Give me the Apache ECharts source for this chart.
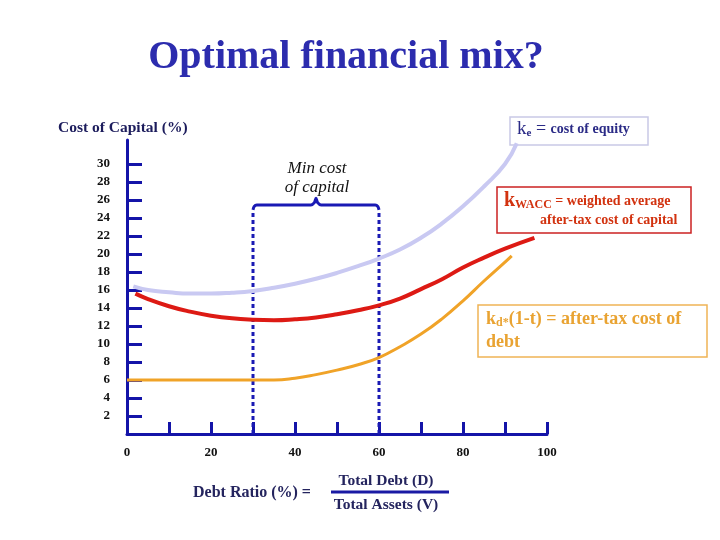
<!DOCTYPE html>
<html>
<head>
<meta charset="utf-8">
<script src="https://cdn.jsdelivr.net/npm/echarts@6/dist/echarts.min.js"></script>
<style>html,body{margin:0;padding:0;background:#fff}#c{width:720px;height:540px}</style>
</head>
<body>
<div id="c"></div>
<script>
// Data (Debt ratio %, cost %)
const keData   = [[1.5,16.4],[5,16.0],[10,15.75],[15,15.6],[20,15.6],[25,15.7],[30,15.9],[35,16.25],[40,16.7],[45,17.25],[50,17.9],[55,18.65],[60,19.5],[65,20.5],[70,21.8],[75,23.4],[80,25.3],[85,27.5],[90,30.0],[92.8,32.3]];
const waccData = [[2,15.6],[5,15.0],[10,14.2],[15,13.6],[20,13.15],[25,12.85],[30,12.7],[35,12.65],[40,12.75],[45,12.95],[50,13.3],[55,13.75],[60,14.3],[65,15.05],[70,16.1],[75,17.2],[80,18.5],[85,19.6],[90,20.6],[97,21.8]];
const kdData   = [[0,6],[5,6],[10,6],[15,6],[20,6],[25,6],[30,6],[35,6],[40,6.2],[45,6.6],[50,7.1],[55,7.7],[60,8.5],[65,9.7],[70,11.1],[75,12.8],[80,14.8],[85,17.0],[90,19.1],[91.6,19.8]];
const minLeft  = [[30,0],[30,24.9]];
const minRight = [[60,0],[60,24.9]];
const braceData = [[30,24.9],[30.3,25.3],[30.9,25.45],[43.8,25.45],[44.6,25.7],[45,26.2],[45.4,25.7],[46.2,25.45],[59.1,25.45],[59.7,25.3],[60,24.9]];
const yTickValues = [2,4,6,8,10,12,14,16,18,20,22,24,26,28,30];
const xTickValues = [0,10,20,30,40,50,60,70,80,90,100];
const xLabelValues = [0,20,40,60,80,100];

const SERIF = '"Liberation Serif","Times New Roman",serif';
const AXIS = '#1414a8';
const chart = echarts.init(document.getElementById('c'));
chart.setOption({
  animation: false,
  backgroundColor: '#fff',
  title: {
    text: 'Optimal financial mix?',
    left: 341, top: 33, textAlign: 'center',
    textStyle: {fontFamily: SERIF, fontSize: 40, fontWeight: 'bold', color: '#2c2cae'}
  },
  grid: {left: 127, right: 173, top: 140, bottom: 106},
  xAxis: {
    type: 'value', min: 0, max: 100, interval: 10,
    axisLine: {show: true, lineStyle: {color: AXIS, width: 3}},
    axisTick: {show: true, inside: true, length: 12, lineStyle: {color: AXIS, width: 3}, customValues: xTickValues},
    axisLabel: {customValues: xLabelValues, margin: 12, fontFamily: SERIF, fontWeight: 'bold', fontSize: 13, color: '#111'},
    splitLine: {show: false}
  },
  yAxis: {
    type: 'value', min: 0, max: 32.67, interval: 2,
    axisLine: {show: true, lineStyle: {color: AXIS, width: 3}},
    axisTick: {show: true, inside: true, length: 15, lineStyle: {color: AXIS, width: 3}, customValues: yTickValues},
    axisLabel: {customValues: yTickValues, margin: 17, fontFamily: SERIF, fontWeight: 'bold', fontSize: 13, color: '#111'},
    splitLine: {show: false}
  },
  series: [
    {type: 'line', data: minLeft, symbol: 'none', lineStyle: {color: '#1a1ab4', width: 3, type: [4,3]}},
    {type: 'line', data: minRight, symbol: 'none', lineStyle: {color: '#1a1ab4', width: 3, type: [4,3]}},
    {type: 'line', data: braceData, symbol: 'none', smooth: 0.3, lineStyle: {color: '#1a1ab4', width: 3}},
    {type: 'line', data: keData, symbol: 'none', smooth: 0.5, lineStyle: {color: '#c9c9f2', width: 4}},
    {type: 'line', data: waccData, symbol: 'none', smooth: 0.5, lineStyle: {color: '#dd1a14', width: 4}},
    {type: 'line', data: kdData, symbol: 'none', smooth: 0.5, lineStyle: {color: '#f0a328', width: 3}}
  ],
  graphic: [
    {type: 'text', x: 58, y: 120, style: {text: 'Cost of Capital (%)', font: 'bold 15.5px ' + SERIF, fill: '#1c1c5c'}},
    {type: 'text', x: 317, y: 159, style: {text: 'Min cost\nof capital', font: 'italic 17px ' + SERIF, fill: '#111', align: 'center', lineHeight: 19}},
    // ke box
    {type: 'rect', shape: {x: 510, y: 117, width: 138, height: 28}, style: {fill: '#fff', stroke: '#c9c9e6', lineWidth: 1.5}},
    {type: 'text', x: 517, y: 120, style: {
      text: '{k|k}{s|e}{t| = }{u|cost of equity}',
      rich: {
        k: {font: '19px ' + SERIF, fill: '#2a2a86'},
        s: {font: 'bold 11px ' + SERIF, fill: '#2a2a86', padding: [8,0,0,0]},
        t: {font: '18px ' + SERIF, fill: '#2a2a86'},
        u: {font: 'bold 14px ' + SERIF, fill: '#2a2a86'}
      }}},
    // WACC box
    {type: 'rect', shape: {x: 497, y: 187, width: 194, height: 46}, style: {fill: '#fff', stroke: '#cc2222', lineWidth: 1.5}},
    {type: 'text', x: 504, y: 191, style: {
      text: '{k|k}{s|WACC}{t| = weighted average}',
      rich: {
        k: {font: 'bold 20px ' + SERIF, fill: '#d2320f'},
        s: {font: 'bold 12px ' + SERIF, fill: '#d2320f', padding: [8,0,0,0]},
        t: {font: 'bold 14px ' + SERIF, fill: '#d2320f'}
      }}},
    {type: 'text', x: 540, y: 213, style: {text: 'after-tax cost of capital', font: 'bold 14px ' + SERIF, fill: '#d2320f'}},
    // kd box
    {type: 'rect', shape: {x: 478, y: 305, width: 229, height: 52}, style: {fill: '#fff', stroke: '#efb456', lineWidth: 1.5}},
    {type: 'text', x: 486, y: 310, style: {
      text: '{k|k}{s|d*}{t|(1-t) = after-tax cost of}',
      rich: {
        k: {font: 'bold 18px ' + SERIF, fill: '#e9a332'},
        s: {font: 'bold 12px ' + SERIF, fill: '#e9a332', padding: [7,0,0,0]},
        t: {font: 'bold 18px ' + SERIF, fill: '#e9a332'}
      }}},
    {type: 'text', x: 486, y: 333, style: {text: 'debt', font: 'bold 18px ' + SERIF, fill: '#e9a332'}},
    // Debt ratio formula
    {type: 'text', x: 193, y: 485, style: {text: 'Debt Ratio (%) =', font: 'bold 16px ' + SERIF, fill: '#24245e'}},
    {type: 'text', x: 386, y: 473, style: {text: 'Total Debt (D)', font: 'bold 15.5px ' + SERIF, fill: '#24245e', align: 'center'}},
    {type: 'line', shape: {x1: 331, y1: 492, x2: 449, y2: 492}, style: {stroke: '#1a1aa4', lineWidth: 3}},
    {type: 'text', x: 386, y: 497, style: {text: 'Total Assets (V)', font: 'bold 15.5px ' + SERIF, fill: '#24245e', align: 'center'}}
  ]
});
</script>
</body>
</html>
